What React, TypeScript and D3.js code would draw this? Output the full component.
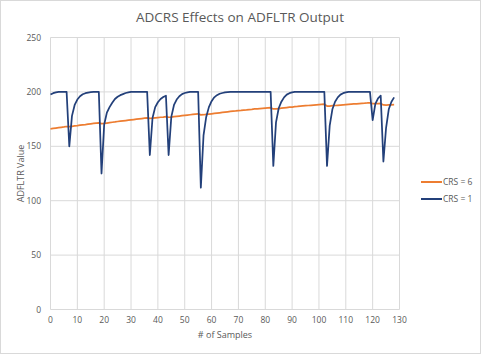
import React from 'react';
import * as d3 from 'd3';

// ADFLTR output per sample
const crs1 = [
  197.6, 198.8, 199.5, 200, 200, 200, 200, 150, 178, 188,
  193, 196, 197.8, 198.8, 199.4, 199.8, 200, 200, 200, 125,
  170, 181, 186, 190, 193.5, 195.5, 197, 198, 199, 199.5,
  200, 200, 200, 200, 200, 200, 200, 142, 176, 186,
  190.5, 193.5, 195.3, 196.5, 142, 177, 188, 193, 196, 198,
  199, 199.6, 200, 200, 200, 200, 112, 160, 177, 186,
  191.5, 195, 197, 198.3, 199, 199.5, 199.8, 200, 200, 200,
  200, 200, 200, 200, 200, 200, 200, 200, 200, 200,
  200, 200, 200, 132, 172, 185, 191, 195, 197.5, 198.8,
  199.5, 200, 200, 200, 200, 200, 200, 200, 200, 200,
  200, 200, 200, 132, 169, 184, 191, 195, 197.5, 198.8,
  199.5, 200, 200, 200, 200, 200, 200, 200, 200, 200,
  174, 189, 194, 196.5, 136, 167, 184, 191, 195,
];

const crs6 = [
  166.0, 166.4, 166.8, 167.2, 167.5, 167.8, 168.2, 168.0, 168.3, 168.7,
  169.0, 169.4, 169.7, 170.0, 170.4, 170.7, 171.0, 171.3, 171.6, 170.9,
  171.0, 171.4, 171.8, 172.1, 172.4, 172.8, 173.1, 173.4, 173.7, 174.0,
  174.3, 174.6, 174.9, 175.2, 175.5, 175.8, 176.1, 175.6, 175.8, 176.1,
  176.4, 176.7, 176.9, 177.2, 176.7, 176.9, 177.2, 177.5, 177.8, 178.1,
  178.4, 178.7, 179.0, 179.3, 179.6, 179.9, 178.9, 179.0, 179.3, 179.6,
  179.9, 180.2, 180.5, 180.8, 181.1, 181.4, 181.7, 182.0, 182.3, 182.5,
  182.8, 183.0, 183.3, 183.5, 183.8, 184.0, 184.3, 184.5, 184.7, 184.9,
  185.1, 185.3, 185.5, 184.3, 184.4, 184.7, 185.0, 185.3, 185.6, 185.9,
  186.1, 186.4, 186.6, 186.9, 187.1, 187.3, 187.5, 187.7, 187.9, 188.1,
  188.3, 188.5, 188.7, 187.0, 187.0, 187.3, 187.5, 187.7, 187.9, 188.1,
  188.3, 188.5, 188.7, 188.9, 189.1, 189.3, 189.5, 189.6, 189.8, 189.9,
  189.3, 189.2, 189.3, 189.4, 188.0, 187.9, 188.0, 188.1, 188.2,
];

const xTicks = [0, 10, 20, 30, 40, 50, 60, 70, 80, 90, 100, 110, 120, 130];
const yTicks = [0, 50, 100, 150, 200, 250];

const series = [
  { name: 'CRS = 6', values: crs6, color: '#ED7D31', width: 1.75 },
  { name: 'CRS = 1', values: crs1, color: '#23407A', width: 1.75 },
];

const W = 481;
const H = 354;
const FONT = 'Open Sans, sans-serif';
const TEXT = '#595959';
const GRID = '#d9d9d9';

export default function App() {
  const x = d3.scaleLinear().domain([0, 130]).range([50.5, 399.5]);
  const y = d3.scaleLinear().domain([0, 250]).range([309.5, 37.5]);

  const line = d3.line<number>()
    .x((_, i) => x(i))
    .y(d => y(d));

  return (
    <svg width={W} height={H} style={{ position: 'absolute', left: 0, top: 0 }} fontFamily={FONT}>
      <rect x={0.5} y={0.5} width={W - 1} height={H - 1} fill="#fff" stroke={GRID} />

      <text x={240} y={22} textAnchor="middle" fontSize={13.5} fill={TEXT}>
        ADCRS Effects on ADFLTR Output
      </text>

      {/* gridlines */}
      {yTicks.map(t => (
        <line key={'gy' + t} x1={x(0)} x2={x(130)} y1={y(t)} y2={y(t)} stroke={GRID} strokeWidth={1} />
      ))}
      {xTicks.map(t => (
        <line key={'gx' + t} x1={x(t)} x2={x(t)} y1={y(0)} y2={y(250)} stroke={GRID} strokeWidth={1} />
      ))}

      {/* tick labels */}
      {yTicks.map(t => (
        <text key={'ly' + t} x={41} y={y(t) + 3} textAnchor="end" fontSize={8.5} fill={TEXT}>{t}</text>
      ))}
      {xTicks.map(t => (
        <text key={'lx' + t} x={x(t)} y={323} textAnchor="middle" fontSize={8.5} fill={TEXT}>{t}</text>
      ))}

      <text x={x(65)} y={338} textAnchor="middle" fontSize={9} fill={TEXT}># of Samples</text>
      <text transform={`translate(24,${(y(0) + y(250)) / 2}) rotate(-90)`} textAnchor="middle" fontSize={9} fill={TEXT}>
        ADFLTR Value
      </text>

      {/* series */}
      {series.map(s => (
        <path key={s.name} d={line(s.values) || ''} fill="none" stroke={s.color} strokeWidth={s.width} strokeLinejoin="round" />
      ))}

      {/* legend */}
      {series.map((s, i) => (
        <g key={'lg' + s.name} transform={`translate(421,${182 + i * 17})`}>
          <line x1={0} x2={21} y1={0} y2={0} stroke={s.color} strokeWidth={2} />
          <text x={22} y={3} fontSize={8.5} fill={TEXT}>{s.name}</text>
        </g>
      ))}
    </svg>
  );
}
